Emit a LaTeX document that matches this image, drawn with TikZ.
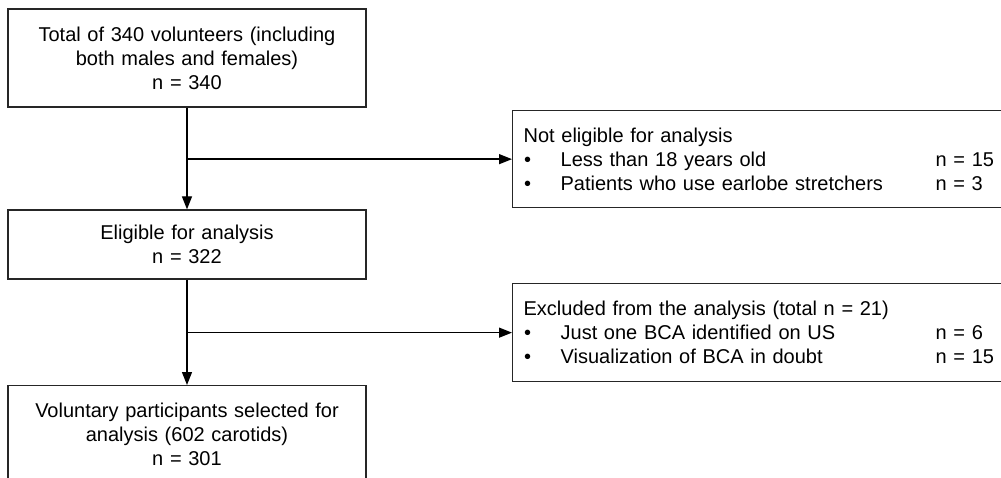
\documentclass[tikz,border=0pt]{standalone}
\usepackage{fontspec}
\setmainfont{Liberation Sans}
\usetikzlibrary{arrows.meta,positioning}
\tikzstyle{stage}=[draw=black!85,line width=1.3pt,align=center,text width=340pt,
  minimum width=358pt,inner sep=0pt,font=\fontsize{20}{24}\selectfont]
\tikzstyle{drop}=[draw=black!85,line width=1.3pt,align=left,text width=478pt,
  minimum width=500pt,inner xsep=11pt,inner ysep=0pt,anchor=north west,
  font=\fontsize{20}{24}\selectfont]
\newcommand{\dropitem}[2]{\makebox[37pt][l]{\hspace{0.5pt}•}\makebox[375pt][l]{#1}#2}

\begin{document}
\begin{tikzpicture}[x=1pt, y=-1pt, >={Triangle[length=13pt,width=10pt]}]
  \clip (0,0) rectangle (1001,478);
  \fill[white] (0,0) rectangle (1001,478);

  \node[stage, minimum height=98pt] (total) at (187,58)
    {Total of 340 volunteers (including\\ both males and females)\\ n = 340};
  \node[stage, minimum height=69pt] (eligible) at (187,244.5)
    {Eligible for analysis\\ n = 322};
  \node[stage, minimum height=98pt, anchor=north] (selected) at (187,385)
    {Voluntary participants selected for\\ analysis (602 carotids)\\ n = 301};

  \node[drop, minimum height=97pt] (noteligible) at (512,110)
    {Not eligible for analysis\\
     \dropitem{Less than 18 years old}{n = 15}\\
     \dropitem{Patients who use earlobe stretchers}{n = 3}};
  \node[drop, minimum height=98pt] (excluded) at (512,283)
    {Excluded from the analysis (total n = 21)\\
     \dropitem{Just one BCA identified on US}{n = 6}\\
     \dropitem{Visualization of BCA in doubt}{n = 15}};

  \coordinate (b1) at (total.south |- noteligible.west);
  \coordinate (b2) at (eligible.south |- excluded.west);

  \draw[->, line width=1.3pt] (total) -- (eligible);
  \draw[->, line width=1.3pt] (b1) -- (noteligible);
  \draw[->, line width=1.3pt] (eligible) -- (selected);
  \draw[->, line width=1.3pt] (b2) -- (excluded);
\end{tikzpicture}
\end{document}
